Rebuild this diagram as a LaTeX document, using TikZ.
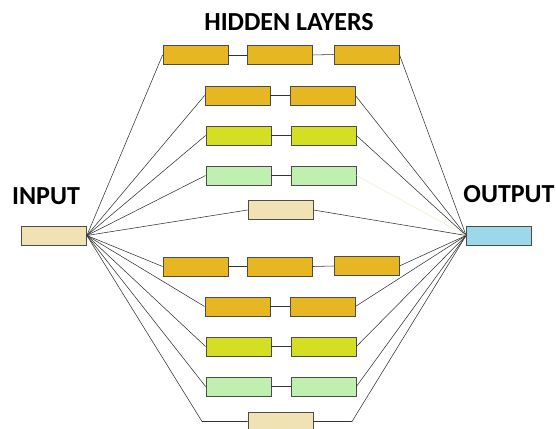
\documentclass[tikz,border=0pt]{standalone}
\usepackage{fontspec}
\setmainfont{Carlito}
\usepackage{tikz}
\usetikzlibrary{positioning, calc}
\definecolor{layerorange}{HTML}{E7B723}
\definecolor{layerlime}{HTML}{D4DE22}
\definecolor{layermint}{HTML}{C0F0B0}
\definecolor{layersand}{HTML}{F0E2B2}
\definecolor{outblue}{HTML}{9BD8EA}
\definecolor{paleline}{HTML}{F3E9C6}

\tikzset{
  unit/.style={draw=black!70, line width=0.8pt, minimum width=65pt, minimum height=19pt, inner sep=0pt},
  wire/.style={black!80, line width=0.55pt},
  heading/.style={font=\fontsize{26}{28}\selectfont\bfseries}
}

\begin{document}
\begin{tikzpicture}[x=1pt, y=-1pt]
  \useasboundingbox (0,0) rectangle (556,428);

  % labels
  \node[heading] (hidtitle) at (289,22) {HIDDEN LAYERS};
  \node[heading] (intitle) at (46,196) {INPUT};
  \node[heading] (outtitle) at (509,194) {OUTPUT};

  % input / output
  \node[unit, fill=layersand] (in) at (54,235.5) {};
  \node[unit, fill=outblue] (out) at (499,235.5) {};

  % upper hidden layers
  \node[unit, fill=layerorange] (a1) at (195.5,55) {};
  \node[unit, fill=layerorange] (a2) at (279.5,55) {};
  \node[unit, fill=layerorange] (a3) at (366.5,54.5) {};
  \node[unit, fill=layerorange] (b1) at (237.5,95.5) {};
  \node[unit, fill=layerorange] (b2) at (322.5,95.5) {};
  \node[unit, fill=layerlime] (c1) at (238.5,135.5) {};
  \node[unit, fill=layerlime] (c2) at (323.5,135.5) {};
  \node[unit, fill=layermint] (d1) at (238.5,175.5) {};
  \node[unit, fill=layermint] (d2) at (323.5,175.5) {};
  \node[unit, fill=layersand] (e1) at (280.5,210) {};

  % lower hidden layers
  \node[unit, fill=layerorange] (f1) at (195.5,266.5) {};
  \node[unit, fill=layerorange] (f2) at (279.5,266.5) {};
  \node[unit, fill=layerorange] (f3) at (366.5,266) {};
  \node[unit, fill=layerorange] (g1) at (237.5,306.5) {};
  \node[unit, fill=layerorange] (g2) at (322.5,306.5) {};
  \node[unit, fill=layerlime] (h1) at (238.5,346.5) {};
  \node[unit, fill=layerlime] (h2) at (323.5,346.5) {};
  \node[unit, fill=layermint] (i1) at (238.5,386.5) {};
  \node[unit, fill=layermint] (i2) at (323.5,386.5) {};
  \node[unit, fill=layersand] (j1) at (280.5,421.5) {};
  \coordinate (jleft) at (202,421.5);
  \coordinate (jright) at (352,421.5);

  % links inside the layers
  \foreach \s/\t in {a1/a2, a2/a3, b1/b2, c1/c2, d1/d2, f1/f2, f2/f3, g1/g2, h1/h2, i1/i2}
    \draw[wire] (\s.east) -- (\t.west);

  % input side
  \foreach \t in {a1, b1, c1, d1, e1, f1, g1, h1, i1}
    \draw[wire] (in.east) -- (\t.west);
  \draw[wire] (in.east) -- (jleft) -- (j1.west);

  % output side
  \foreach \s in {a3, b2, c2, e1, f3, g2, h2, i2}
    \draw[wire] (\s.east) -- (out.west);
  \draw[paleline, line width=0.5pt] (d2.east) -- (out.west);
  \draw[wire] (j1.east) -- (jright) -- (out.west);
\end{tikzpicture}
\end{document}
